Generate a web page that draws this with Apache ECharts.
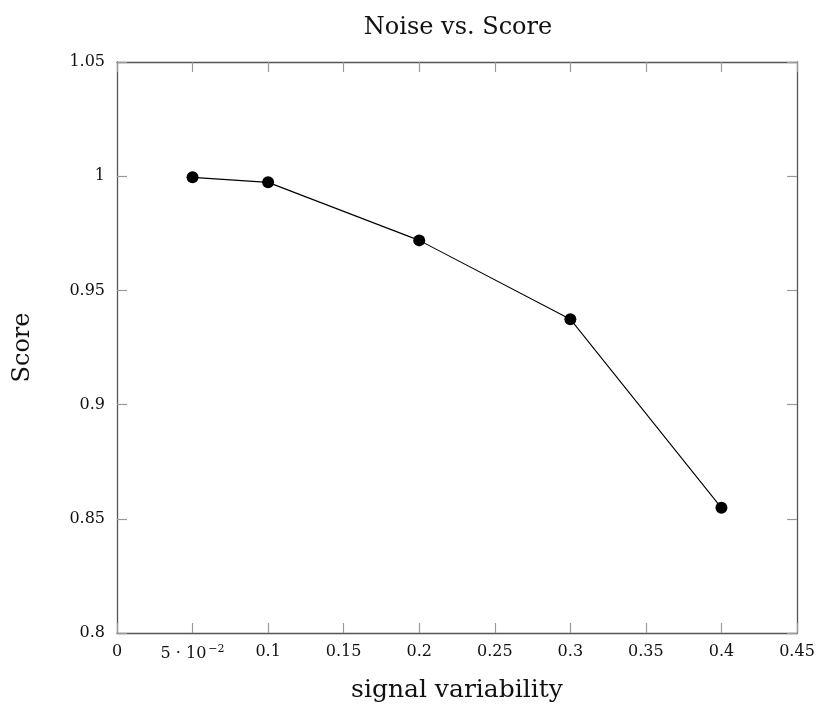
<!DOCTYPE html>
<html>
<head>
<meta charset="utf-8">
<script src="https://cdn.jsdelivr.net/npm/echarts@6/dist/echarts.min.js"></script>
<style>
  html, body { margin: 0; padding: 0; background: #fff; }
  #chart { width: 821px; height: 711px; }
</style>
</head>
<body>
<div id="chart"></div>
<script>
// Signal variability levels and the score measured at each
const variability = [0.05, 0.1, 0.2, 0.3, 0.4];
const scores = [0.9995, 0.9973, 0.9719, 0.9374, 0.8548];

// Axis ranges and steps
const xRange = [0, 0.45, 0.05];
const yRange = [0.8, 1.05, 0.05];

const FONT = 'DejaVu Serif';
const tickColor = '#9a9a9a';
const frameColor = '#555';

function trim(v) { return String(parseFloat(v.toFixed(4))); }

function xLabel(v) {
  if (Math.abs(v - 0.05) < 1e-9) return '{m|5 · 10}{s|−2}';
  return '{m|' + trim(v) + '}';
}

const chart = echarts.init(document.getElementById('chart'));

const axisCommon = {
  axisLine: { show: true, onZero: false, lineStyle: { color: frameColor, width: 1.3 } },
  axisTick: { show: true, inside: true, length: 10, lineStyle: { color: tickColor, width: 1.2 } },
  splitLine: { show: false }
};

chart.setOption({
  backgroundColor: '#fff',
  animation: false,
  title: {
    text: 'Noise vs. Score',
    left: 453, top: 11, textAlign: 'center',
    textStyle: { fontFamily: FONT, fontWeight: 'normal', fontSize: 24, color: '#111' }
  },
  grid: { left: 117, top: 62, right: 24, bottom: 78 },
  xAxis: [
    Object.assign({
      type: 'value', position: 'bottom',
      min: xRange[0], max: xRange[1], interval: xRange[2],
      name: 'signal variability', nameLocation: 'middle', nameGap: 45,
      nameTextStyle: { fontFamily: FONT, fontSize: 25, color: '#111' },
      axisLabel: {
        margin: 11, formatter: xLabel, showMinLabel: true, showMaxLabel: true,
        rich: {
          m: { fontFamily: FONT, fontSize: 16, color: '#111' },
          s: { fontFamily: FONT, fontSize: 11, color: '#111', verticalAlign: 'top', padding: [0, 0, 8, 2] }
        }
      }
    }, axisCommon),
    Object.assign({
      type: 'value', position: 'top',
      min: xRange[0], max: xRange[1], interval: xRange[2],
      axisLabel: { show: false }
    }, axisCommon)
  ],
  yAxis: [
    Object.assign({
      type: 'value', position: 'left',
      min: yRange[0], max: yRange[1], interval: yRange[2],
      name: 'Score', nameLocation: 'middle', nameGap: 82, nameRotate: 90,
      nameTextStyle: { fontFamily: FONT, fontSize: 24, color: '#111' },
      axisLabel: { margin: 12, fontFamily: FONT, fontSize: 16, color: '#111', formatter: trim }
    }, axisCommon),
    Object.assign({
      type: 'value', position: 'right',
      min: yRange[0], max: yRange[1], interval: yRange[2],
      axisLabel: { show: false }
    }, axisCommon)
  ],
  series: [{
    type: 'line',
    data: variability.map((x, i) => [x, scores[i]]),
    symbol: 'circle', symbolSize: 12,
    itemStyle: { color: '#000' },
    lineStyle: { color: '#000', width: 1.1 }
  }]
});
</script>
</body>
</html>
